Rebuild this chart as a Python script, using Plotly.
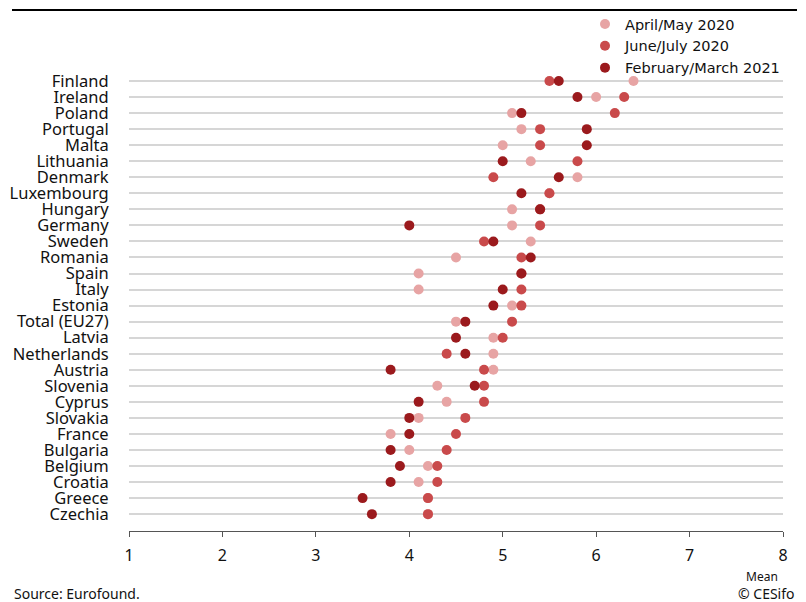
import plotly.graph_objects as go

countries = ["Finland", "Ireland", "Poland", "Portugal", "Malta", "Lithuania", "Denmark",
             "Luxembourg", "Hungary", "Germany", "Sweden", "Romania", "Spain", "Italy",
             "Estonia", "Total (EU27)", "Latvia", "Netherlands", "Austria", "Slovenia",
             "Cyprus", "Slovakia", "France", "Bulgaria", "Belgium", "Croatia", "Greece", "Czechia"]

apr_may_2020 = [6.4, 6.0, 5.1, 5.2, 5.0, 5.3, 5.8, 5.5, 5.1, 5.1, 5.3, 4.5, 4.1, 4.1,
                5.1, 4.5, 4.9, 4.9, 4.9, 4.3, 4.4, 4.1, 3.8, 4.0, 4.2, 4.1, 4.2, 4.2]
jun_jul_2020 = [5.5, 6.3, 6.2, 5.4, 5.4, 5.8, 4.9, 5.5, 5.4, 5.4, 4.8, 5.2, 5.2, 5.2,
                5.2, 5.1, 5.0, 4.4, 4.8, 4.8, 4.8, 4.6, 4.5, 4.4, 4.3, 4.3, 4.2, 4.2]
feb_mar_2021 = [5.6, 5.8, 5.2, 5.9, 5.9, 5.0, 5.6, 5.2, 5.4, 4.0, 4.9, 5.3, 5.2, 5.0,
                4.9, 4.6, 4.5, 4.6, 3.8, 4.7, 4.1, 4.0, 4.0, 3.8, 3.9, 3.8, 3.5, 3.6]

x_ticks = [1, 2, 3, 4, 5, 6, 7, 8]

series = [
    ("April/May 2020", apr_may_2020, "#e7a4a4"),
    ("June/July 2020", jun_jul_2020, "#c94a4b"),
    ("February/March 2021", feb_mar_2021, "#9b1a1d"),
]

FONT = "Noto Sans"
# The page body has an 8px margin, so the figure is drawn 8px in from the window edge.
OFF = 8
W, H = 806 - OFF, 602 - OFF
PL, PR, PT, PB = 129, 783, 73, 531   # plot area in window pixels
PW, PH = PR - PL, PB - PT


def px(x):
    return (x - PL) / PW


def py(y):
    return (PB - y) / PH


idx = list(range(len(countries)))

fig = go.Figure()
for name, vals, col in series:
    fig.add_trace(go.Scatter(
        x=vals, y=idx, mode="markers", name=name,
        marker=dict(color=col, size=10, line=dict(width=0)),
    ))

fig.update_layout(
    width=W, height=H,
    margin=dict(l=PL - OFF, r=806 - PR, t=PT - OFF, b=602 - PB, autoexpand=False),
    paper_bgcolor="white", plot_bgcolor="white",
    font=dict(family=FONT, size=14, color="#111"),
    showlegend=True,
    legend=dict(xref="container", yref="container", x=(585 - OFF) / W, xanchor="left",
                y=1 + 3 / H, yanchor="top",
                font=dict(family="DejaVu Sans", size=14.5, color="#111"),
                bgcolor="rgba(0,0,0,0)", itemwidth=30, tracegroupgap=0),
    xaxis=dict(range=[1, 8], tickvals=x_ticks, ticktext=[str(t) for t in x_ticks],
               showgrid=False, zeroline=False, showline=True, linecolor="#555",
               linewidth=1, ticks="outside", ticklen=5, tickcolor="#555",
               ticklabelstandoff=5,
               tickfont=dict(size=16, color="#111"), fixedrange=True),
    yaxis=dict(range=[28.05, -0.5], tickvals=idx, ticktext=countries,
               showgrid=True, gridcolor="#d6d6d6", gridwidth=1.5, zeroline=False,
               showline=False, ticks="outside", ticklen=16, tickcolor="rgba(0,0,0,0)",
               tickfont=dict(size=16.5, color="#111"), fixedrange=True),
    shapes=[dict(type="line", xref="paper", yref="paper", x0=px(12), x1=px(797),
                 y0=py(10), y1=py(10), line=dict(color="black", width=2))],
    annotations=[
        dict(text="Mean", xref="paper", yref="paper", x=px(762), y=py(576),
             showarrow=False, xanchor="center", yanchor="middle",
             font=dict(size=12, color="#111")),
        dict(text="Source: Eurofound.", xref="paper", yref="paper", x=px(12), y=py(593),
             showarrow=False, xanchor="left", yanchor="middle",
             font=dict(size=14, color="#111")),
        dict(text="© CESifo", xref="paper", yref="paper", x=px(797), y=py(593),
             showarrow=False, xanchor="right", yanchor="middle",
             font=dict(size=14, color="#111")),
    ],
)

fig.write_html("out.html")
